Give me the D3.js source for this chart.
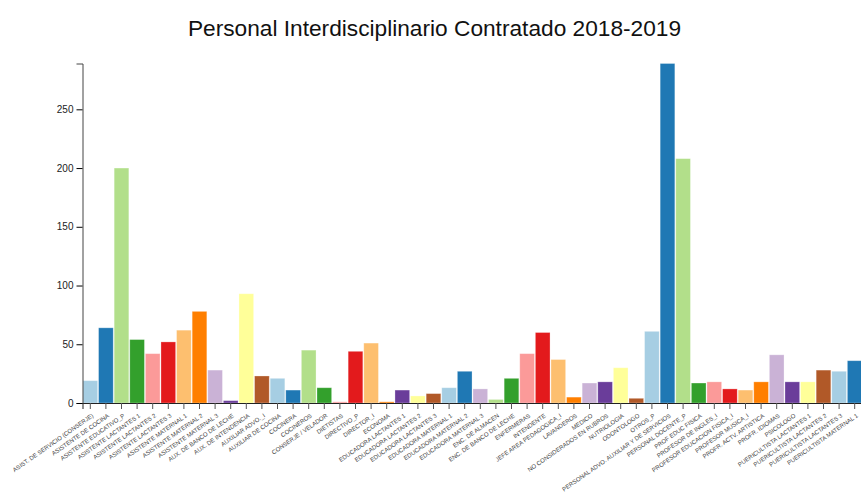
<!DOCTYPE html>
<html>
<head>
<meta charset="utf-8">
<script src="https://cdn.jsdelivr.net/npm/d3@7"></script>
<style>
  html, body { margin: 0; padding: 0; background: #fff; }
  svg { display: block; font-family: "Liberation Sans", Arial, Helvetica, sans-serif; }
</style>
</head>
<body>
<svg id="chart" width="861" height="492"></svg>
<script>
// Staff categories (x axis)
const categories = [
  "ASIST. DE SERVICIO (CONSERJE)", "ASISTENTE DE COCINA", "ASISTENTE EDUCATIVO_P",
  "ASISTENTE LACTANTES 1", "ASISTENTE LACTANTES 2", "ASISTENTE LACTANTES 3",
  "ASISTENTE MATERNAL 1", "ASISTENTE MATERNAL 2", "ASISTENTE MATERNAL 3",
  "AUX. DE BANCO DE LECHE", "AUX. DE INTENDENCIA", "AUXILIAR ADVO._I",
  "AUXILIAR DE COCINA", "COCINERA", "COCINEROS", "CONSERJE / VELADOR",
  "DIETISTAS", "DIRECTIVO_P", "DIRECTOR_I", "ECONOMA",
  "EDUCADORA LACTANTES 1", "EDUCADORA LACTANTES 2", "EDUCADORA LACTANTES 3",
  "EDUCADORA MATERNAL 1", "EDUCADORA MATERNAL 2", "EDUCADORA MATERNAL 3",
  "ENC. DE ALMACEN", "ENC. DE BANCO DE LECHE", "ENFERMERAS", "INTENDENTE",
  "JEFE AREA PEDAGOGICA_I", "LAVANDEROS", "MEDICO", "NO CONSIDERADOS EN RUBROS",
  "NUTRIOLOGIA", "ODONTOLOGO", "OTROS_P", "PERSONAL ADVO. AUXILIAR Y DE SERVICIOS",
  "PERSONAL DOCENTE_P", "PROF EDUC FISICA", "PROFESOR DE INGLES_I",
  "PROFESOR EDUCACION FISICA_I", "PROFESOR MUSICA_I", "PROFR. ACTV. ARTISTICA",
  "PROFR. IDIOMAS", "PSICOLOGO", "PUERICULTISTA LACTANTES 1",
  "PUERICULTISTA LACTANTES 2", "PUERICULTISTA LACTANTES 3", "PUERICULTISTA MATERNAL 1"
];

// Number of people hired per category, 2018-2019
const values = [
  19, 64, 200, 54, 42, 52, 62, 78, 28, 2,
  93, 23, 21, 11, 45, 13, 1, 44, 51, 1,
  11, 6, 8, 13, 27, 12, 3, 21, 42, 60,
  37, 5, 17, 18, 30, 4, 61, 289, 208, 17,
  18, 12, 11, 18, 41, 18, 18, 28, 27, 36
];

// Slot of d3.schemePaired used by each bar
const colorSlot = [
  0, 1, 2, 3, 4, 5, 6, 7, 8, 9,
  10, 11, 0, 1, 2, 3, 4, 5, 6, 7,
  9, 10, 11, 0, 1, 8, 2, 3, 4, 5,
  6, 7, 8, 9, 10, 11, 0, 1, 2, 3,
  4, 5, 6, 7, 8, 9, 10, 11, 0, 1
];

const yTicks = [0, 50, 100, 150, 200, 250];

const titleText = "Personal Interdisciplinario Contratado 2018-2019";

const data = categories.map((name, i) => ({ name, value: values[i], slot: colorSlot[i] }));

const svg = d3.select("#chart");
const margin = { top: 63.5, left: 82.5, bottom: 89 };
const height = 492;
const plotRight = 862.5;

const x = d3.scaleBand()
  .domain(categories)
  .range([margin.left, plotRight])
  .paddingInner(0.06)
  .paddingOuter(0.03);

const y = d3.scaleLinear()
  .domain([0, d3.max(values)])
  .range([height - margin.bottom, margin.top]);

// Bars
svg.append("g")
  .selectAll("rect")
  .data(data)
  .join("rect")
  .attr("x", d => x(d.name))
  .attr("y", d => y(d.value))
  .attr("width", x.bandwidth())
  .attr("height", d => y(0) - y(d.value))
  .attr("fill", d => d3.schemePaired[d.slot])
  .attr("stroke", "#fff")
  .attr("stroke-opacity", 0.35)
  .attr("stroke-width", 0.8);

// X axis with slanted category labels
const gx = svg.append("g")
  .attr("transform", `translate(0,${height - margin.bottom})`)
  .call(d3.axisBottom(x).tickSizeOuter(6));
gx.select(".domain").attr("stroke", "#222");
gx.selectAll(".tick line").attr("stroke", "#555");
gx.selectAll(".tick text")
  .attr("font-size", 6)
  .attr("fill", "#444")
  .attr("y", 9)
  .attr("x", 0)
  .attr("dy", "0.71em")
  .attr("dx", "-0.8em")
  .attr("transform", "rotate(-35)")
  .style("text-anchor", "end");

// Y axis
const gy = svg.append("g")
  .attr("transform", `translate(${margin.left},0)`)
  .call(d3.axisLeft(y).tickValues(yTicks));
gy.select(".domain").attr("stroke", "#444");
gy.selectAll(".tick text").attr("font-size", 10).attr("fill", "#222");

// Title
svg.append("text")
  .attr("x", 434.5)
  .attr("y", 36)
  .attr("text-anchor", "middle")
  .attr("font-size", 22.7)
  .attr("fill", "#111")
  .text(titleText);
</script>
</body>
</html>
